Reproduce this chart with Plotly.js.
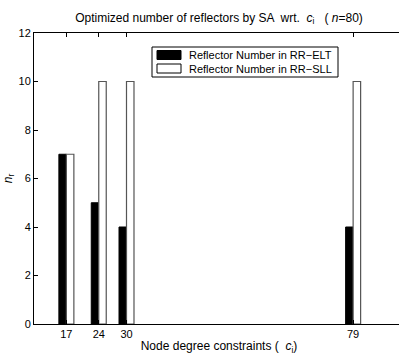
<!DOCTYPE html>
<html>
<head>
<meta charset="utf-8">
<script src="https://cdn.plot.ly/plotly-3.0.1.min.js"></script>
<style>html,body{margin:0;padding:0;overflow:hidden;background:#fff;}</style>
</head>
<body>
<div id="chart" style="width:404px;height:355px;"></div>
<script>
const categories = [17, 24, 30, 79];
const eltValues = [7, 5, 4, 4];
const sllValues = [7, 10, 10, 10];
const yTicks = [0, 2, 4, 6, 8, 10, 12];
const seriesNames = ['Reflector Number in RR\u2212ELT', 'Reflector Number in RR\u2212SLL'];

const fam = 'Liberation Sans, Arial, Helvetica, sans-serif';
const font = {family: fam, size: 11, color: '#000'};
const titleFont = {family: fam, size: 12, color: '#000'};
const legFont = {family: fam, size: 11, color: '#000'};

const traces = [
  {type: 'bar', x: categories, y: eltValues, name: seriesNames[0], showlegend: false,
   marker: {color: '#000', line: {color: '#000', width: 1}}},
  {type: 'bar', x: categories, y: sllValues, name: seriesNames[1], showlegend: false,
   marker: {color: '#fff', line: {color: '#555', width: 1.2}}}
];

// plot area in pixels: x 34..404, y 33..324
const px = v => (v - 34) / 370;
const py = v => (324 - v) / 291;

const shapes = [
  {type: 'rect', xref: 'paper', yref: 'paper', x0: px(152), x1: px(338), y0: py(77), y1: py(47),
   line: {color: '#000', width: 1}, fillcolor: '#fff', layer: 'above'},
  {type: 'rect', xref: 'paper', yref: 'paper', x0: px(157), x1: px(181), y0: py(59.5), y1: py(50.5),
   line: {color: '#000', width: 1}, fillcolor: '#000', layer: 'above'},
  {type: 'rect', xref: 'paper', yref: 'paper', x0: px(157), x1: px(181), y0: py(73), y1: py(64),
   line: {color: '#000', width: 1}, fillcolor: '#fff', layer: 'above'}
];
const annotations = [
  {xref: 'paper', yref: 'paper', x: px(187), y: py(55), xanchor: 'left', yanchor: 'middle',
   text: seriesNames[0], showarrow: false, font: legFont},
  {xref: 'paper', yref: 'paper', x: px(187), y: py(68.5), xanchor: 'left', yanchor: 'middle',
   text: seriesNames[1], showarrow: false, font: legFont}
];

const layout = {
  width: 404, height: 355,
  margin: {l: 34, r: 0, t: 33, b: 31, pad: 0},
  paper_bgcolor: '#fff', plot_bgcolor: '#fff',
  font: font,
  barmode: 'group', bargap: 0.46, bargroupgap: 0,
  showlegend: false,
  shapes: shapes, annotations: annotations,
  title: {text: 'Optimized number of reflectors by SA  wrt.  <i>c</i><sub>i</sub>   ( <i>n</i>=80)',
          x: 0.5, xref: 'paper', y: 0.95, yref: 'container', yanchor: 'middle', font: titleFont},
  xaxis: {range: [10, 90], tickvals: categories, ticktext: categories.map(String),
          ticks: 'inside', ticklen: 4, tickcolor: '#000', mirror: 'ticks',
          showline: true, linecolor: '#000', linewidth: 1, showgrid: false, zeroline: false,
          tickfont: font,
          title: {text: 'Node degree constraints (  <i>c</i><sub>i</sub>)', font: titleFont, standoff: 3}},
  yaxis: {range: [0, 12], tickvals: yTicks, ticks: 'inside', ticklen: 4, tickcolor: '#000',
          mirror: 'ticks', showline: true, linecolor: '#000', linewidth: 1,
          showgrid: false, zeroline: false, tickfont: font,
          title: {text: '<i>n</i><sub>r</sub>', font: titleFont, standoff: 3}}
};

Plotly.newPlot('chart', traces, layout, {displayModeBar: false, staticPlot: true});
</script>
</body>
</html>
